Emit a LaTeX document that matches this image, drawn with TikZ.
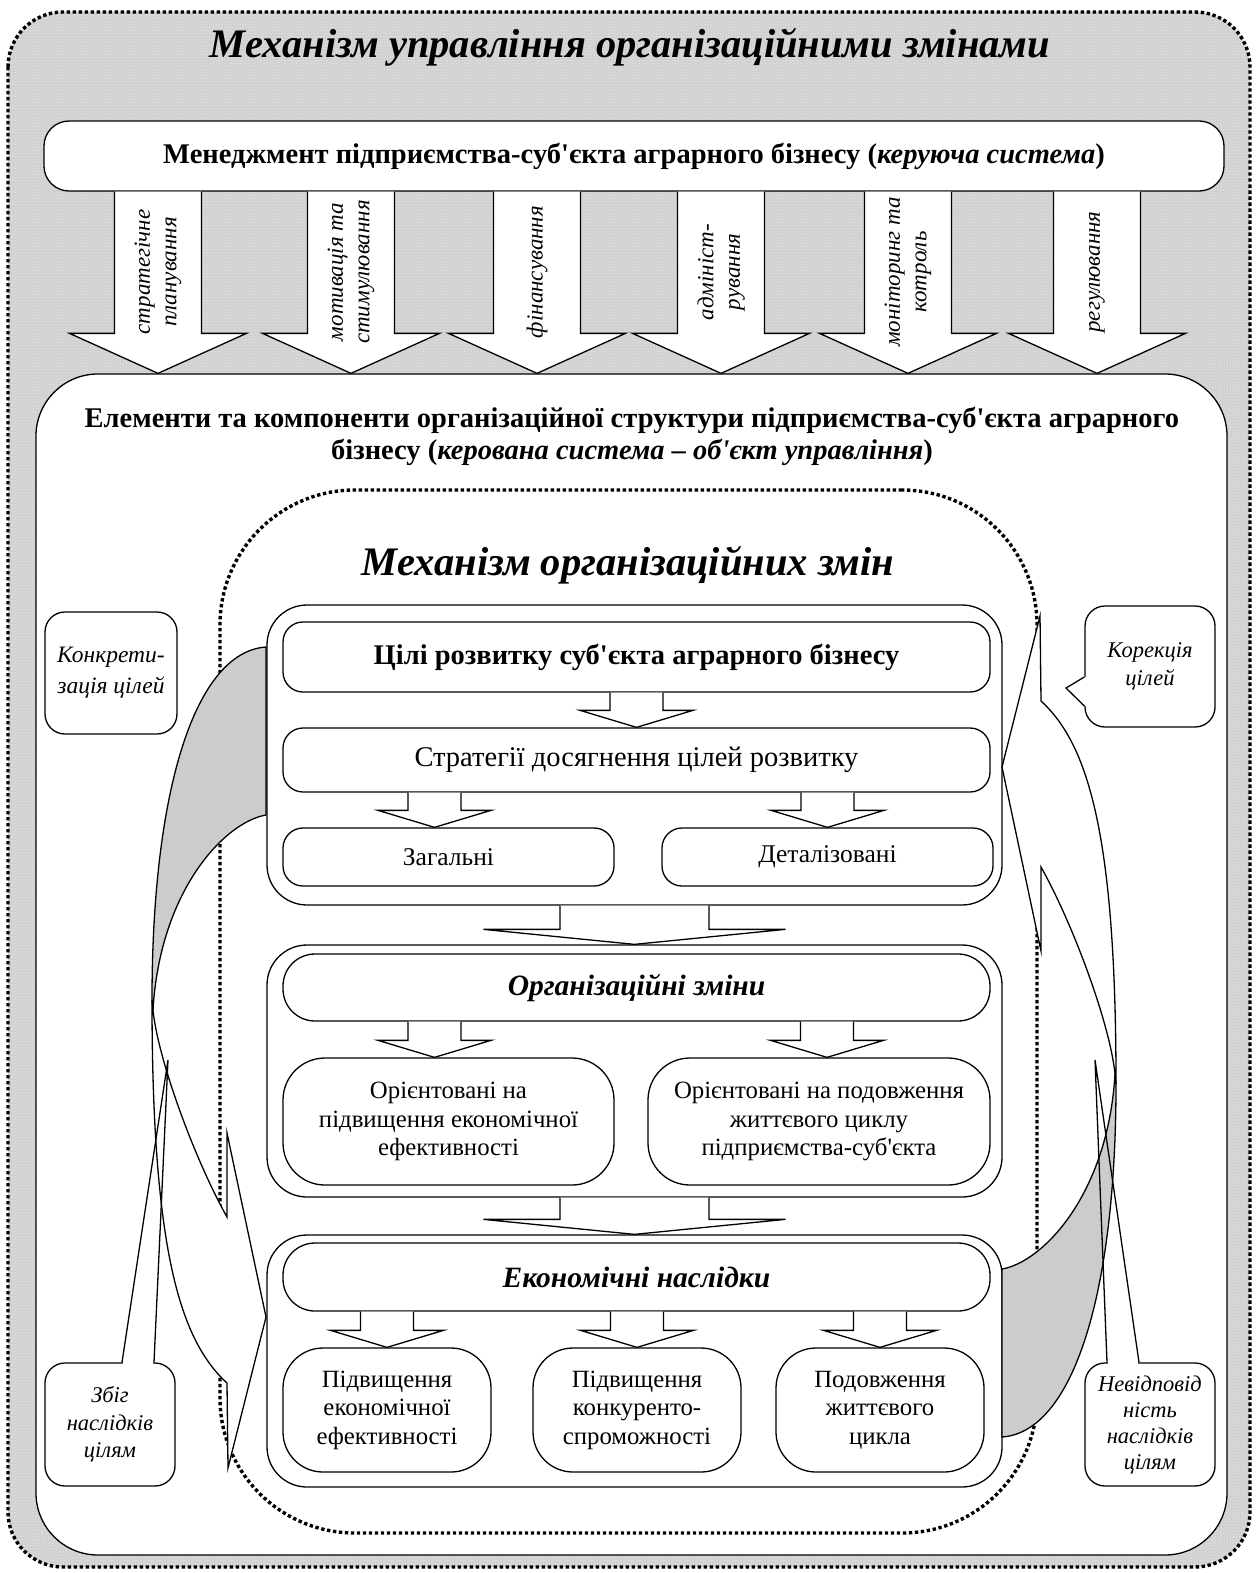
\documentclass[tikz,border=0pt]{standalone}
\usepackage{fontspec}
\setmainfont{Liberation Serif}[Ligatures=TeXOff]
\usetikzlibrary{calc,patterns}

\newcommand{\headfont}{\fontsize{40.5}{46}\selectfont\bfseries\itshape}
\newcommand{\boxfont}{\fontsize{28.5}{32}\selectfont}
\newcommand{\midfont}{\fontsize{25.5}{29}\selectfont}
\newcommand{\smallfont}{\fontsize{24.8}{28.5}\selectfont}
\newcommand{\notefont}{\fontsize{22.5}{28}\selectfont\itshape}

% left bent arrow; the right one is the same turned by 180 degrees
\newcommand{\bentarrow}{%
  \filldraw[bandback] (266,647) .. controls (195,652) and (152,790) .. (152,1000)
    -- (153,1010) .. controls (160,890) and (225,822) .. (266,815) -- cycle;
  \filldraw[bandfront] (153,1010) .. controls (158,1060) and (195,1160) .. (227,1217)
    -- (227,1133) -- (266,1317) -- (228,1468) -- (227,1383)
    .. controls (180,1340) and (152,1250) .. (152,1000) -- cycle;
}

\tikzset{
  dotline/.style={line width=3.4pt, dash pattern=on 3.4pt off 2.6pt},
  thinline/.style={line width=1.3pt},
  rbox/.style={draw, fill=white, thinline, inner sep=0pt, align=center, rounded corners=#1},
  rbox/.default=20pt,
  blockarrow/.style n args={3}{draw, fill=white, thinline,
    to path={let \p1=(\tikztostart), \p2=(\tikztotarget) in
      (\x1-#1,\y1) -- (\x1-#1,\y2+#3) -- (\x1-#2,\y2+#3) -- (\x2,\y2)
      -- (\x1+#2,\y2+#3) -- (\x1+#1,\y2+#3) -- (\x1+#1,\y1)}},
  bandback/.style={thinline, fill=black!20},
  bandfront/.style={thinline, fill=white},
  armlabel/.style={rotate=90, align=center, font=\fontsize{23}{26.5}\selectfont\itshape},
  note/.style={rbox=20pt, font=\notefont},
}

\begin{document}
\begin{tikzpicture}[x=1pt,y=-1pt]
\useasboundingbox (0,0) rectangle (1255,1573);

% grey frame
\fill[black!18, rounded corners=55pt] (8,12) rectangle (1250,1567);
\fill[pattern=dots, pattern color=white, rounded corners=55pt] (8,12) rectangle (1250,1567);
\draw[dotline, rounded corners=55pt] (8,12) rectangle (1250,1567);

\node[font=\headfont] (title) at (630,47) {Механізм управління організаційними змінами};

\node[rbox=25pt, minimum width=1180pt, minimum height=70pt, font=\boxfont\bfseries] (mgmt) at (634,156)
  {Менеджмент підприємства-суб'єкта аграрного бізнесу (\textit{керуюча система})};

\node[rbox=62pt, minimum width=1191pt, minimum height=1181pt] (elem) at (631.5,964.5) {};
\node[font=\boxfont\bfseries, align=center] (elemtext) at (632,436)
  {Елементи та компоненти організаційної структури підприємства-суб'єкта аграрного\\
   бізнесу (\textit{керована система – об'єкт управління})};

% management functions
\foreach \i/\ax/\txt in {1/158/{стратегічне\\планування},
                         2/351/{мотивація та\\стимулювання},
                         3/537/{фінансування},
                         4/721/{адмініст-\\рування},
                         5/908/{моніторинг та\\котроль},
                         6/1097/{регулювання}}{
  \coordinate (ax\i) at (\ax,272);
  \draw[blockarrow={43.5pt}{88.5pt}{40pt}] (mgmt.south -| ax\i) to (elem.north -| ax\i);
  \node[armlabel] (lbl\i) at (ax\i) {\txt};
}

% mechanism of changes
\node[draw, dotline, rounded corners=135pt, minimum width=817pt, minimum height=1043pt] (mech) at (628.5,1011.5) {};
\node[font=\headfont] (mechtitle) at (628,565) {Механізм організаційних змін};

% goals
\node[rbox=40pt, minimum width=735pt, minimum height=300pt] (grp1) at (634.5,755) {};
\node[rbox=20pt, minimum width=707pt, minimum height=70pt, font=\boxfont\bfseries] (goals) at (636.5,657)
  {Цілі розвитку суб'єкта аграрного бізнесу};
\node[rbox=20pt, minimum width=707pt, minimum height=64pt, font=\boxfont] (strat) at (636.5,760)
  {Стратегії досягнення цілей розвитку};
\node[rbox=20pt, minimum width=331pt, minimum height=58pt, font=\midfont] (gen) at (448.5,857) {Загальні};
\node[rbox=20pt, minimum width=331pt, minimum height=58pt, font=\midfont] (det) at (827.5,857) {Деталізовані};
\draw[blockarrow={26.5pt}{56.5pt}{17pt}] (goals.south) to (strat.north);
\draw[blockarrow={26.5pt}{56.5pt}{17pt}] ($(gen.north |- strat.south)+(-14,0)$) to ($(gen.north)+(-14,0)$);
\draw[blockarrow={26.5pt}{56.5pt}{17pt}] (det.north |- strat.south) to (det.north);

% changes
\node[rbox=40pt, minimum width=735pt, minimum height=252pt] (grp2) at (634.5,1071) {};
\node[rbox=32pt, minimum width=707pt, minimum height=67pt, font=\fontsize{29.5}{32}\selectfont\bfseries\itshape] (orgch) at (636.5,987.5)
  {Організаційні зміни};
\node[rbox=42pt, minimum width=331pt, minimum height=127pt, font=\smallfont] (oreff) at (448.5,1121.5)
  {Орієнтовані на\\підвищення економічної\\ефективності};
\node[rbox=42pt, minimum width=342pt, minimum height=127pt, font=\smallfont] (orlife) at (819,1121.5)
  {Орієнтовані на подовження\\життєвого циклу\\підприємства-суб'єкта};
\draw[blockarrow={26.5pt}{56.5pt}{17pt}] ($(oreff.north |- orgch.south)+(-14,0)$) to ($(oreff.north)+(-14,0)$);
\draw[blockarrow={26.5pt}{56.5pt}{17pt}] ($(orlife.north |- orgch.south)+(8,0)$) to ($(orlife.north)+(8,0)$);
\draw[blockarrow={74.5pt}{151pt}{15pt}] (grp1.south) to (grp2.north);

% consequences
\node[rbox=40pt, minimum width=735pt, minimum height=252pt] (grp3) at (634.5,1361) {};
\node[rbox=32pt, minimum width=707pt, minimum height=68pt, font=\fontsize{29.5}{32}\selectfont\bfseries\itshape] (econ) at (636.5,1277)
  {Економічні наслідки};
\node[rbox=40pt, minimum width=208pt, minimum height=124pt, font=\smallfont] (res1) at (387,1410)
  {Підвищення\\економічної\\ефективності};
\node[rbox=40pt, minimum width=208pt, minimum height=124pt, font=\smallfont] (res2) at (637,1410)
  {Підвищення\\конкуренто-\\спроможності};
\node[rbox=40pt, minimum width=208pt, minimum height=124pt, font=\smallfont] (res3) at (880,1410)
  {Подовження\\життєвого\\цикла};
\foreach \r in {res1,res2,res3}
  \draw[blockarrow={26.5pt}{56.5pt}{17pt}] (econ.south -| \r.north) to (\r.north);
\draw[blockarrow={74.5pt}{151pt}{15pt}] (grp2.south) to (grp3.north);

% feedback arrows
\bentarrow
\begin{scope}[rotate around={180:(634,1042)}]
  \bentarrow
\end{scope}

% notes
\node[note, minimum width=132pt, minimum height=122pt, font=\fontsize{23.5}{31}\selectfont\itshape] (concr) at (111,673)
  {Конкрети-\\зація цілей};
\node[note, minimum width=130pt, minimum height=121pt] (corr) at (1150,666.5) {Корекція\\цілей};
\node[note, minimum width=130pt, minimum height=123pt, font=\fontsize{22.5}{27.5}\selectfont\itshape] (match) at (110,1424.5)
  {Збіг\\наслідків\\цілям};
\node[note, minimum width=130pt, minimum height=123pt, font=\fontsize{22.5}{26}\selectfont\itshape] (mism) at (1150,1424.5)
  {Невідповід\\ність\\наслідків\\цілям};

\coordinate (corrtip) at (1066,688);
\coordinate (matchtip) at (168,1060);
\coordinate (mismtip) at (1095,1060);
\fill[white] ($(corr.west)+(-1.5,10.5)$) rectangle ($(corr.west)+(1.5,39.5)$);
\draw[thinline] ($(corr.west)+(0,10.5)$) -- (corrtip) -- ($(corr.west)+(0,39.5)$);
\fill[white] ($(match.north)+(13,-1.5)$) rectangle ($(match.north)+(43,1.5)$);
\draw[thinline] ($(match.north)+(12,0)$) -- (matchtip) -- ($(match.north)+(44,0)$);
\fill[white] ($(mism.north)+(-42,-1.5)$) rectangle ($(mism.north)+(-12,1.5)$);
\draw[thinline] ($(mism.north)+(-43,0)$) -- (mismtip) -- ($(mism.north)+(-11,0)$);
\end{tikzpicture}
\end{document}
